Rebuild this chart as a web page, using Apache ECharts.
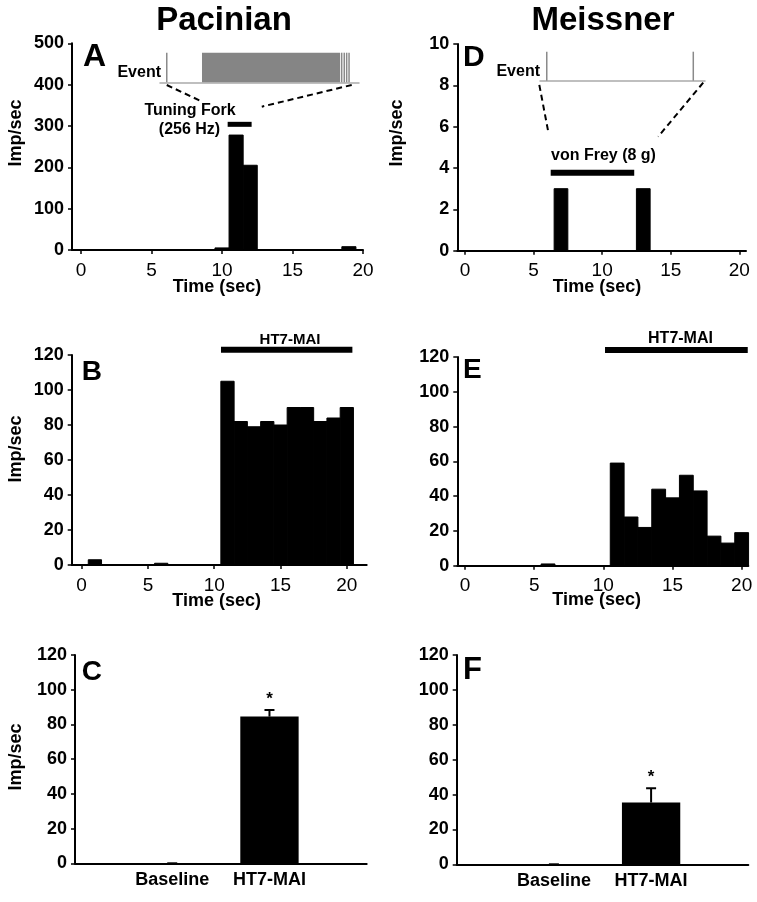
<!DOCTYPE html>
<html>
<head>
<meta charset="utf-8">
<script src="https://cdn.jsdelivr.net/npm/echarts@6/dist/echarts.min.js"></script>
<style>
html,body{margin:0;padding:0;background:#fff;}
#chart{width:757px;height:902px;}
</style>
</head>
<body>
<div id="chart"></div>
<script>
// ---------- data ----------
const xTicks = [0, 5, 10, 15, 20];
// Panel A: Pacinian, tuning fork (bin centre time, imp/sec)
const timeA = [10, 11, 12, 19];
const rateA = [5, 278, 205, 8];
const tuningFork = [[10.4, 12.1, 304]];          // [start, end, level]
// Panel D: Meissner, von Frey
const timeD = [7, 13];
const rateD = [3, 3];
const vonFrey = [[6.25, 12.34, 3.77]];
// Panel B: Pacinian HT7-MAI
const timeB = [1, 6, 11, 12, 13, 14, 15, 16, 17, 18, 19, 20];
const rateB = [3, 1, 105, 82, 79, 82, 80, 90, 90, 82, 84, 90];
const drugB = [[10.51, 20.42, 123]];
// Panel E: Meissner HT7-MAI
const timeE = [6, 11, 12, 13, 14, 15, 16, 17, 18, 19, 20];
const rateE = [1, 59, 28, 22, 44, 39, 52, 43, 17, 13, 19];
const drugE = [[10.12, 20.44, 124]];
// Panels C, F: summary bars
const groups = ['Baseline', 'HT7-MAI'];
const meanC = [0, 84.5];
const semC = [0, 3.8];
const meanF = [0, 35.4];
const semF = [0, 8.2];
const sig = [false, true];
// Event insets (normalised time 0-100 within inset)
const spikesA = [3.4, 91.3, 92.6, 93.8, 95.0];
const burstA = [[21.1, 90.5]];
const spikesD = [4.1, 92.9];
// dashed connectors (data coords of main panels)
const connA = [[[6.08, 399.2], [8.44, 361.2]], [[19.2, 399.2], [12.82, 346.7]]];
const connD = [[[5.42, 8.02], [6.07, 5.76]], [[17.37, 8.13], [14.09, 5.52]]];

// ---------- styling ----------
const FONT = '"Liberation Sans", Arial, Helvetica, sans-serif';
const axisLine = { show: true, onZero: false, lineStyle: { color: '#000', width: 2 } };

function histRender(params, api) {
  const x = api.value(0), y = api.value(1);
  const p0 = api.coord([x - 0.5, y]);
  const p1 = api.coord([x + 0.5, 0]);
  return { type: 'rect', shape: { x: p0[0], y: p0[1], width: p1[0] - p0[0], height: p1[1] - p0[1] }, style: { fill: '#000', stroke: '#000', lineWidth: 1 } };
}
function barLineRender(w) {
  return function (params, api) {
    const a = api.coord([api.value(0), api.value(2)]);
    const b = api.coord([api.value(1), api.value(2)]);
    return { type: 'line', shape: { x1: a[0], y1: a[1], x2: b[0], y2: b[1] }, style: { stroke: '#000', lineWidth: w } };
  };
}
function spikeRender(params, api) {
  const t = api.value(0);
  const a = api.coord([t, 0]), b = api.coord([t, 1]);
  return { type: 'line', shape: { x1: a[0], y1: a[1], x2: b[0], y2: b[1] }, style: { stroke: '#8a8a8a', lineWidth: 1.5 } };
}
function burstRender(params, api) {
  const a = api.coord([api.value(0), 1]), b = api.coord([api.value(1), 0]);
  return { type: 'rect', shape: { x: a[0], y: a[1], width: b[0] - a[0], height: b[1] - a[1] }, style: { fill: '#858585' } };
}
function summaryRender(means, sems) {
  return function (params, api) {
    const i = params.dataIndex;
    const x = api.value(0), m = means[i], s = sems[i];
    const p0 = api.coord([x - 0.3, m]);
    const p1 = api.coord([x + 0.3, 0]);
    const c = api.coord([x, m]);
    const t = api.coord([x, m + s]);
    const children = [
      { type: 'rect', shape: { x: p0[0], y: p0[1], width: p1[0] - p0[0], height: p1[1] - p0[1] }, style: { fill: '#000' } },
      { type: 'line', shape: { x1: c[0], y1: c[1], x2: t[0], y2: t[1] }, style: { stroke: '#000', lineWidth: 2 } },
      { type: 'line', shape: { x1: t[0] - 5, y1: t[1], x2: t[0] + 5, y2: t[1] }, style: { stroke: '#000', lineWidth: 2 } }
    ];
    if (sig[i]) {
      children.push({ type: 'text', x: t[0], y: t[1] - 11, style: { text: '*', fill: '#000', font: 'bold 17px ' + FONT, align: 'center', verticalAlign: 'middle' } });
    }
    return { type: 'group', children };
  };
}

function timeX(grid, min, max) {
  return {
    type: 'value', gridIndex: grid, min, max,
    axisLine,
    axisTick: { show: true, customValues: xTicks, length: 4, lineStyle: { color: '#000', width: 1.5 } },
    axisLabel: { customValues: xTicks, color: '#000', fontSize: 19, fontFamily: FONT, margin: 11 },
    splitLine: { show: false }
  };
}
function catX(grid) {
  return {
    type: 'value', gridIndex: grid, min: 0, max: 3,
    axisLine,
    axisTick: { show: false },
    axisLabel: { customValues: [1, 2], formatter: v => groups[Math.round(v) - 1], color: '#000', fontSize: 18, fontWeight: 'bold', fontFamily: FONT, margin: 8 },
    splitLine: { show: false }
  };
}
function rateY(grid, max, interval) {
  return {
    type: 'value', gridIndex: grid, min: 0, max, interval,
    axisLine,
    axisTick: { show: true, length: 4, lineStyle: { color: '#000', width: 1.5 } },
    axisLabel: { color: '#000', fontSize: 18, fontWeight: 'bold', fontFamily: FONT, margin: 8 },
    splitLine: { show: false }
  };
}
function insetX(grid) {
  return { type: 'value', gridIndex: grid, min: 0, max: 100, axisLine: { show: true, lineStyle: { color: '#aaaaaa', width: 1.5 } }, axisTick: { show: false }, axisLabel: { show: false }, splitLine: { show: false } };
}
function insetY(grid) {
  return { type: 'value', gridIndex: grid, min: 0, max: 1, axisLine: { show: false }, axisTick: { show: false }, axisLabel: { show: false }, splitLine: { show: false } };
}
function txt(text, x, y, size, opts) {
  opts = opts || {};
  return {
    type: 'text', x, y, rotation: opts.rot || 0,
    style: { text, fill: '#000', font: (opts.weight || 'bold') + ' ' + size + 'px ' + FONT, align: opts.align || 'center', verticalAlign: 'middle' }
  };
}
function dashSeries(xi, yi, seg) {
  return { type: 'line', xAxisIndex: xi, yAxisIndex: yi, data: seg, symbol: 'none', silent: true, lineStyle: { color: '#000', width: 2, type: [6, 4] } };
}

const option = {
  animation: false,
  backgroundColor: '#fff',
  grid: [
    { left: 72, top: 43.3, width: 291, height: 206.7 },      // A
    { left: 457.3, top: 44, width: 288.7, height: 206.7 },   // D
    { left: 71.7, top: 355, width: 295, height: 210 },       // B
    { left: 457.3, top: 357, width: 291, height: 208.7 },    // E
    { left: 75, top: 655, width: 291.7, height: 208.3 },     // C
    { left: 456.7, top: 655, width: 291.6, height: 209.3 },  // F
    { left: 160, top: 52.7, width: 199, height: 29.6 },      // A inset
    { left: 540, top: 51.7, width: 165, height: 29 }         // D inset
  ],
  xAxis: [
    timeX(0, -0.64, 20), timeX(1, -0.56, 20.49), timeX(2, -0.75, 21.5), timeX(3, -0.56, 20.48),
    catX(4), catX(5), insetX(6), insetX(7)
  ],
  yAxis: [
    rateY(0, 500, 100), rateY(1, 10, 2), rateY(2, 120, 20), rateY(3, 120, 20),
    rateY(4, 120, 20), rateY(5, 120, 20), insetY(6), insetY(7)
  ],
  series: [
    { type: 'custom', xAxisIndex: 0, yAxisIndex: 0, renderItem: histRender, data: timeA.map((t, i) => [t, rateA[i]]) },
    { type: 'custom', xAxisIndex: 1, yAxisIndex: 1, renderItem: histRender, data: timeD.map((t, i) => [t, rateD[i]]) },
    { type: 'custom', xAxisIndex: 2, yAxisIndex: 2, renderItem: histRender, data: timeB.map((t, i) => [t, rateB[i]]) },
    { type: 'custom', xAxisIndex: 3, yAxisIndex: 3, renderItem: histRender, data: timeE.map((t, i) => [t, rateE[i]]) },
    { type: 'custom', xAxisIndex: 0, yAxisIndex: 0, clip: false, renderItem: barLineRender(5), data: tuningFork },
    { type: 'custom', xAxisIndex: 1, yAxisIndex: 1, clip: false, renderItem: barLineRender(6), data: vonFrey },
    { type: 'custom', xAxisIndex: 2, yAxisIndex: 2, clip: false, renderItem: barLineRender(6), data: drugB },
    { type: 'custom', xAxisIndex: 3, yAxisIndex: 3, clip: false, renderItem: barLineRender(6), data: drugE },
    { type: 'custom', xAxisIndex: 4, yAxisIndex: 4, clip: false, renderItem: summaryRender(meanC, semC), data: groups.map((g, i) => [i + 1, meanC[i]]) },
    { type: 'custom', xAxisIndex: 5, yAxisIndex: 5, clip: false, renderItem: summaryRender(meanF, semF), data: groups.map((g, i) => [i + 1, meanF[i]]) },
    { type: 'custom', xAxisIndex: 6, yAxisIndex: 6, renderItem: burstRender, data: burstA },
    { type: 'custom', xAxisIndex: 6, yAxisIndex: 6, renderItem: spikeRender, data: spikesA.map(t => [t]) },
    { type: 'custom', xAxisIndex: 7, yAxisIndex: 7, renderItem: spikeRender, data: spikesD.map(t => [t]) },
    dashSeries(0, 0, connA[0]), dashSeries(0, 0, connA[1]),
    dashSeries(1, 1, connD[0]), dashSeries(1, 1, connD[1])
  ],
  graphic: [
    txt('Pacinian', 224, 21, 33),
    txt('Meissner', 603, 21, 33),
    txt('A', 83, 57, 32, { align: 'left' }),
    txt('B', 81.7, 372, 28, { align: 'left' }),
    txt('C', 81.7, 672, 28, { align: 'left' }),
    txt('D', 463, 57.5, 30, { align: 'left' }),
    txt('E', 463, 370, 28, { align: 'left' }),
    txt('F', 463, 670, 31, { align: 'left' }),
    txt('Imp/sec', 16.5, 133, 18, { rot: Math.PI / 2 }),
    txt('Imp/sec', 16.5, 449, 18, { rot: Math.PI / 2 }),
    txt('Imp/sec', 16.5, 757, 18, { rot: Math.PI / 2 }),
    txt('Imp/sec', 396.7, 133, 18, { rot: Math.PI / 2 }),
    txt('Time (sec)', 217, 287, 18),
    txt('Time (sec)', 597, 287, 18),
    txt('Time (sec)', 216.7, 601, 18),
    txt('Time (sec)', 596.7, 600, 18),
    txt('Event', 161, 73, 16, { align: 'right' }),
    txt('Event', 540, 72, 16, { align: 'right' }),
    txt('Tuning Fork', 190, 111, 16),
    txt('(256 Hz)', 189.5, 130, 16),
    txt('von Frey (8 g)', 551, 156, 16, { align: 'left' }),
    txt('HT7-MAI', 290, 340, 15),
    txt('HT7-MAI', 680.5, 338.5, 16)
  ]
};

const chart = echarts.init(document.getElementById('chart'), null, { renderer: 'canvas' });
chart.setOption(option);
</script>
</body>
</html>
